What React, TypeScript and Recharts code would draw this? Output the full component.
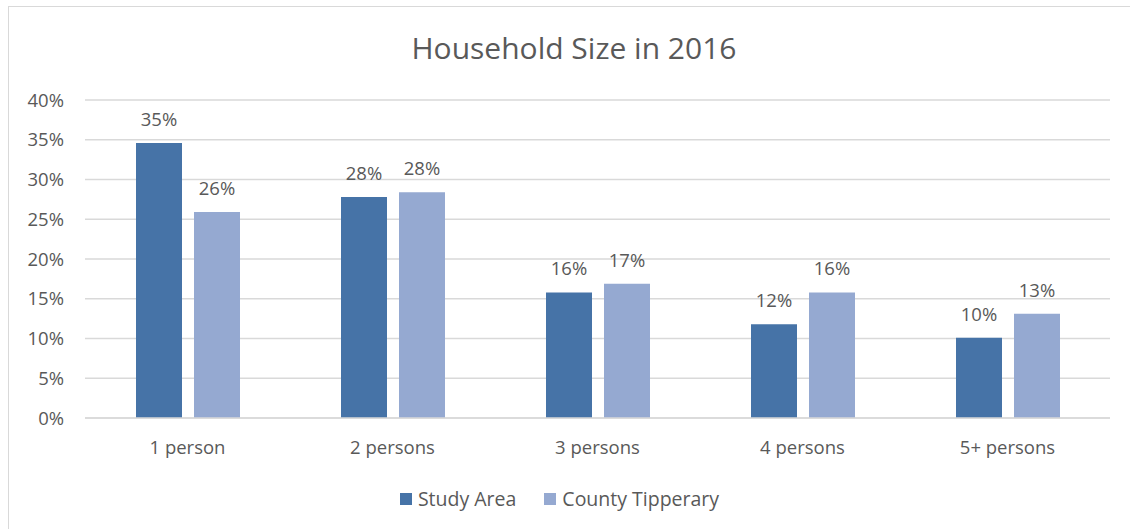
import React from "react";
import {
  BarChart,
  Bar,
  XAxis,
  YAxis,
  CartesianGrid,
  Legend,
  LabelList,
} from "recharts";

const categories = ["1 person", "2 persons", "3 persons", "4 persons", "5+ persons"];
const studyArea = [34.6, 27.8, 15.8, 11.8, 10.1];
const countyTipperary = [25.9, 28.4, 16.9, 15.8, 13.1];
const yTicks = [0, 5, 10, 15, 20, 25, 30, 35, 40];

const SA_COLOR = "#4673a7";
const CT_COLOR = "#95a9d1";
const TEXT = "#595959";
const FONT = "Open Sans, sans-serif";
const FS = 18.5;

const data = categories.map((name, i) => ({
  name,
  studyArea: studyArea[i],
  county: countyTipperary[i],
}));

const legendItems = [
  { label: "Study Area", color: SA_COLOR },
  { label: "County Tipperary", color: CT_COLOR },
];

function LegendContent() {
  return (
    <div style={{ display: "flex", justifyContent: "center", gap: 28, fontFamily: FONT, fontSize: 19.5, color: TEXT }}>
      {legendItems.map((it) => (
        <div key={it.label} style={{ display: "flex", alignItems: "center" }}>
          <span style={{ width: 12, height: 12, background: it.color, marginRight: 6, display: "inline-block" }} />
          <span>{it.label}</span>
        </div>
      ))}
    </div>
  );
}

export default function App() {
  return (
    <div
      style={{
        position: "absolute",
        left: 8,
        top: 6,
        width: 1130,
        height: 530,
        border: "1px solid #d9d9d9",
        background: "#fff",
        fontFamily: FONT,
      }}
    >
      <div
        style={{
          position: "absolute",
          left: 0,
          width: 1130,
          top: 20,
          textAlign: "center",
          fontSize: 30,
          color: TEXT,
          fontFamily: FONT,
        }}
      >
        Household Size in 2016
      </div>
      <BarChart
        width={1120}
        height={520}
        data={data}
        margin={{ top: 93, right: 19, left: 0, bottom: 19 }}
        barGap={12}
      >
        <CartesianGrid vertical={false} stroke="#d9d9d9" strokeWidth={1.5} />
        <XAxis
          dataKey="name"
          axisLine={{ stroke: "#d9d9d9", strokeWidth: 1.5 }}
          tickLine={false}
          tick={{ fill: TEXT, fontSize: FS, fontFamily: FONT }}
          tickMargin={17}
          height={50}
        />
        <YAxis
          width={76}
          domain={[0, 40]}
          ticks={yTicks}
          axisLine={false}
          tickLine={false}
          tickMargin={15}
          tickFormatter={(v: number) => `${v}%`}
          tick={{ fill: TEXT, fontSize: FS, fontFamily: FONT }}
        />
        <Legend verticalAlign="bottom" height={40} wrapperStyle={{ bottom: 2 }} content={<LegendContent />} />
        <Bar dataKey="studyArea" fill={SA_COLOR} barSize={46} isAnimationActive={false}>
          <LabelList
            dataKey="studyArea"
            position="top"
            offset={17}
            formatter={(v: number) => `${Math.round(v)}%`}
            style={{ fill: TEXT, fontSize: FS, fontFamily: FONT }}
          />
        </Bar>
        <Bar dataKey="county" fill={CT_COLOR} barSize={46} isAnimationActive={false}>
          <LabelList
            dataKey="county"
            position="top"
            offset={17}
            formatter={(v: number) => `${Math.round(v)}%`}
            style={{ fill: TEXT, fontSize: FS, fontFamily: FONT }}
          />
        </Bar>
      </BarChart>
    </div>
  );
}
